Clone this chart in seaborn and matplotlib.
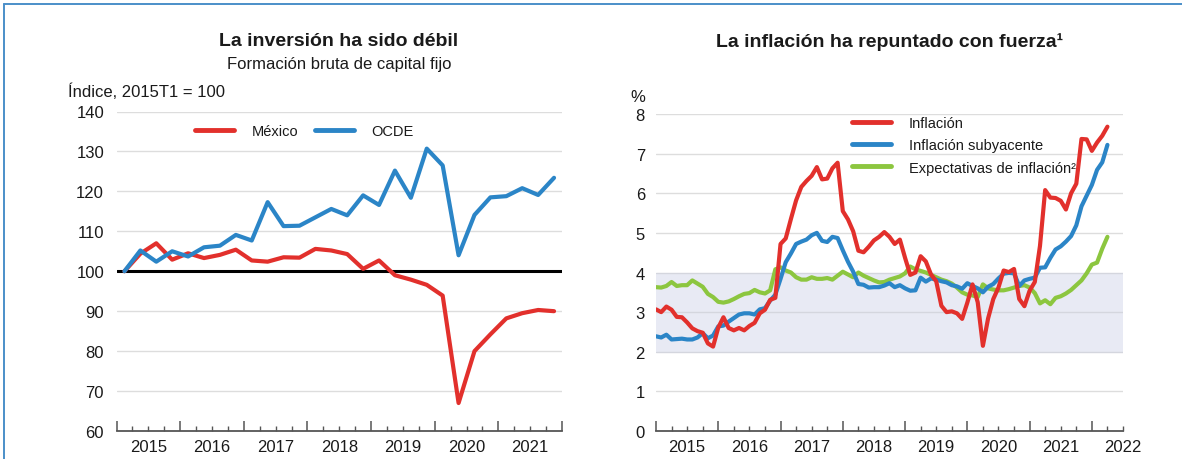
import matplotlib
matplotlib.use("Agg")
import matplotlib.pyplot as plt
import seaborn as sns
import pandas as pd
import numpy as np
from matplotlib.ticker import FixedLocator, FixedFormatter, NullFormatter
from matplotlib.lines import Line2D

# ---------------- data ----------------
quarters = [f"{y}T{q}" for y in range(2015, 2022) for q in range(1, 5)]
mexico = [100.0, 104.4, 107.0, 102.9, 104.5, 103.3, 104.1, 105.4, 102.7, 102.4,
          103.5, 103.4, 105.6, 105.2, 104.3, 100.6, 102.7, 99.0, 97.9, 96.6,
          93.9, 67.0, 80.0, 84.2, 88.2, 89.5, 90.3, 90.0]
ocde = [100.0, 105.2, 102.4, 105.0, 103.7, 106.0, 106.4, 109.1, 107.7, 117.3,
        111.3, 111.4, 113.5, 115.6, 114.0, 119.0, 116.6, 125.2, 118.4, 130.7,
        126.5, 104.0, 114.1, 118.5, 118.8, 120.8, 119.1, 123.4]

months = [f"{y}-{m:02d}" for y in range(2015, 2023) for m in range(1, 13)][:88]
inflacion = [3.07, 3.00, 3.14, 3.06, 2.88, 2.87, 2.74, 2.59, 2.52, 2.48, 2.21, 2.13,
             2.61, 2.87, 2.60, 2.54, 2.60, 2.54, 2.65, 2.73, 2.97, 3.06, 3.31, 3.36,
             4.72, 4.86, 5.35, 5.82, 6.16, 6.31, 6.44, 6.66, 6.35, 6.37, 6.63, 6.77,
             5.55, 5.34, 5.04, 4.55, 4.51, 4.65, 4.81, 4.90, 5.02, 4.90, 4.72, 4.83,
             4.37, 3.94, 4.00, 4.41, 4.28, 3.95, 3.78, 3.16, 3.00, 3.02, 2.97, 2.83,
             3.24, 3.70, 3.25, 2.15, 2.84, 3.33, 3.62, 4.05, 4.01, 4.09, 3.33, 3.15,
             3.54, 3.76, 4.67, 6.08, 5.89, 5.88, 5.81, 5.59, 6.00, 6.24, 7.37, 7.36,
             7.07, 7.28, 7.45, 7.68]
subyacente = [2.39, 2.36, 2.43, 2.31, 2.32, 2.33, 2.31, 2.31, 2.36, 2.47, 2.34, 2.41,
              2.64, 2.66, 2.76, 2.85, 2.94, 2.97, 2.97, 2.94, 3.07, 3.10, 3.29, 3.44,
              3.84, 4.26, 4.48, 4.72, 4.78, 4.83, 4.94, 5.00, 4.80, 4.77, 4.90, 4.87,
              4.56, 4.27, 4.02, 3.71, 3.69, 3.62, 3.63, 3.63, 3.67, 3.73, 3.63, 3.68,
              3.60, 3.54, 3.55, 3.87, 3.77, 3.85, 3.82, 3.78, 3.75, 3.68, 3.65, 3.59,
              3.73, 3.66, 3.60, 3.50, 3.64, 3.71, 3.85, 3.97, 3.99, 3.98, 3.66, 3.80,
              3.84, 3.87, 4.12, 4.13, 4.37, 4.58, 4.66, 4.78, 4.92, 5.19, 5.67, 5.94,
              6.21, 6.59, 6.78, 7.22]
expectativas = [3.63, 3.62, 3.66, 3.76, 3.66, 3.68, 3.68, 3.80, 3.72, 3.64, 3.46, 3.38,
                3.26, 3.24, 3.27, 3.33, 3.40, 3.46, 3.48, 3.56, 3.50, 3.47, 3.55, 4.08,
                4.13, 4.05, 4.00, 3.88, 3.82, 3.82, 3.88, 3.84, 3.84, 3.86, 3.82, 3.92,
                4.02, 3.95, 3.88, 4.00, 3.92, 3.86, 3.80, 3.75, 3.76, 3.82, 3.86, 3.90,
                3.98, 4.15, 4.08, 4.04, 4.00, 3.94, 3.88, 3.82, 3.78, 3.72, 3.62, 3.50,
                3.44, 3.42, 3.38, 3.70, 3.60, 3.57, 3.55, 3.55, 3.58, 3.62, 3.66, 3.68,
                3.62, 3.48, 3.22, 3.30, 3.20, 3.36, 3.40, 3.47, 3.56, 3.68, 3.80, 3.98,
                4.20, 4.25, 4.60, 4.90]

left_years = ["2015", "2016", "2017", "2018", "2019", "2020", "2021"]
right_years = ["2015", "2016", "2017", "2018", "2019", "2020", "2021", "2022"]
left_yticks = [60, 70, 80, 90, 100, 110, 120, 130, 140]
right_yticks = [0, 1, 2, 3, 4, 5, 6, 7, 8]

RED = "#e2302c"
BLUE = "#2b85c7"
GREEN = "#8cc63f"
TXT = "#1a1a1a"
GRID = "#dddddd"
AXC = "#555555"

# ---------------- style ----------------
sns.set_theme(style="white")
plt.rcParams["font.family"] = ["Liberation Sans", "DejaVu Sans"]

W, H = 1182, 460
fig = plt.figure(figsize=(W / 100, H / 100), dpi=100)


def px_axes(x0, x1, ytop, ybot):
    return fig.add_axes([x0 / W, 1 - ybot / H, (x1 - x0) / W, (ybot - ytop) / H])


def style_xaxis(ax, year_labels, x_end):
    first = int(year_labels[0])
    majors = list(range(first, int(np.floor(x_end)) + 1))
    ax.xaxis.set_major_locator(FixedLocator(majors))
    ax.xaxis.set_major_formatter(NullFormatter())
    minors = [v for v in np.arange(first, x_end + 0.001, 0.25) if abs(v - round(v)) > 1e-6]
    labels = []
    for v in minors:
        if abs(v - np.floor(v) - 0.5) < 1e-6 and str(int(np.floor(v))) in year_labels:
            labels.append(str(int(np.floor(v))))
        else:
            labels.append("")
    ax.xaxis.set_minor_locator(FixedLocator(minors))
    ax.xaxis.set_minor_formatter(FixedFormatter(labels))
    ax.tick_params(axis="x", which="major", direction="in", length=7, width=1.1,
                   color=AXC, bottom=True)
    ax.tick_params(axis="x", which="minor", direction="in", length=3.5, width=1.0,
                   color=AXC, bottom=True, labelsize=12, labelcolor=TXT, pad=6)
    for s in ["top", "right", "left"]:
        ax.spines[s].set_visible(False)
    ax.spines["bottom"].set_color(AXC)
    ax.spines["bottom"].set_linewidth(1.3)
    ax.set_xlabel("")
    ax.set_ylabel("")


# ---------------- left panel ----------------
axL = px_axes(116.5, 562, 112.5, 432)
qx = [2015 + (i + 0.5) / 4 for i in range(len(quarters))]
dfL = pd.DataFrame({"x": qx + qx,
                    "v": mexico + ocde,
                    "serie": ["México"] * len(qx) + ["OCDE"] * len(qx)})
for yv in left_yticks[1:]:
    if yv != 100:
        axL.axhline(yv, color=GRID, lw=1.0, zorder=0)
axL.axhline(100, color="black", lw=2.2, zorder=1)
sns.lineplot(data=dfL, x="x", y="v", hue="serie", palette={"México": RED, "OCDE": BLUE},
             lw=3.0, ax=axL, legend=False, zorder=3)
axL.set_xlim(2015, 2022)
axL.set_ylim(60, 140)
axL.set_yticks(left_yticks)
axL.set_yticklabels([str(v) for v in left_yticks])
axL.tick_params(axis="y", length=0, labelsize=12, labelcolor=TXT, pad=9)
style_xaxis(axL, left_years, 2022)
hL = [Line2D([], [], color=RED, lw=3.5), Line2D([], [], color=BLUE, lw=3.5)]
axL.legend(hL, ["México", "OCDE"], ncol=2, frameon=False, fontsize=10.5,
           loc="center left", bbox_to_anchor=((195 - 116.5) / 445.5, (432 - 132) / 319.5),
           borderpad=0, borderaxespad=0, handlelength=2.7, handletextpad=1.2,
           columnspacing=1.1, labelcolor=TXT)

fig.text(339 / W, 1 - 42 / H, "La inversión ha sido débil", ha="center", va="center",
         fontsize=14, fontweight="bold", color=TXT)
fig.text(339 / W, 1 - 64 / H, "Formación bruta de capital fijo", ha="center", va="center",
         fontsize=12, color=TXT)
fig.text(68 / W, 1 - 92 / H, "Índice, 2015T1 = 100", ha="left", va="center",
         fontsize=12, color=TXT)

# ---------------- right panel ----------------
axR = px_axes(656, 1123, 115, 432)
mx = [2015 + m / 12 for m in range(len(months))]
names = ["Inflación", "Inflación subyacente", "Expectativas de inflación²"]
dfR = pd.DataFrame({"x": mx * 3,
                    "v": inflacion + subyacente + expectativas,
                    "serie": [names[0]] * len(mx) + [names[1]] * len(mx) + [names[2]] * len(mx)})
axR.axhspan(2, 4, color="#e8eaf4", lw=0, zorder=0)
for yv in right_yticks[1:]:
    axR.axhline(yv, color=GRID if yv not in (2, 3, 4) else "#d4d6de", lw=1.0, zorder=0.5)
sns.lineplot(data=dfR, x="x", y="v", hue="serie",
             palette={names[0]: RED, names[1]: BLUE, names[2]: GREEN},
             hue_order=[names[2], names[1], names[0]],
             lw=3.0, ax=axR, legend=False, zorder=3)
axR.set_xlim(2015, 2022.5)
axR.set_ylim(0, 8)
axR.set_yticks(right_yticks)
axR.set_yticklabels([str(v) for v in right_yticks])
axR.tick_params(axis="y", length=0, labelsize=12, labelcolor=TXT, pad=8)
style_xaxis(axR, right_years, 2022.5)
hR = [Line2D([], [], color=c, lw=3.5) for c in (RED, BLUE, GREEN)]
axR.legend(hR, names, frameon=False, fontsize=10.5, loc="center left",
           bbox_to_anchor=((852 - 656) / 467, (432 - 146.5) / 317),
           borderpad=0, borderaxespad=0, handlelength=2.7, handletextpad=1.2,
           labelspacing=0.55, labelcolor=TXT)

fig.text(889.5 / W, 1 - 42 / H, "La inflación ha repuntado con fuerza¹", ha="center",
         va="center", fontsize=14, fontweight="bold", color=TXT)
fig.text(630 / W, 1 - 97 / H, "%", ha="left", va="center", fontsize=12, color=TXT)

# ---------------- frame ----------------
FRAME = "#4b8fc9"
fig.add_artist(Line2D([4 / W, 1], [1 - 5 / H, 1 - 5 / H], transform=fig.transFigure,
                      color=FRAME, lw=1.4))
fig.add_artist(Line2D([4 / W, 4 / W], [0, 1 - 5 / H], transform=fig.transFigure,
                      color=FRAME, lw=1.4))

fig.savefig("out.png", dpi=100, facecolor="white")
